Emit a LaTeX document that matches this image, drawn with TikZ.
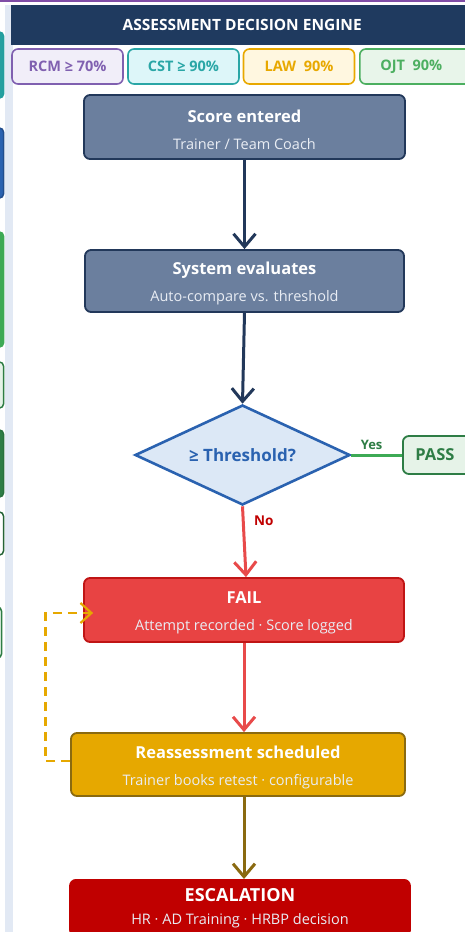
\documentclass[tikz,border=0pt]{standalone}
\usepackage{fontspec}
\setmainfont{Open Sans}
\usetikzlibrary{arrows.meta,shapes.geometric}
\definecolor{navy}{HTML}{1F3A5F}
\definecolor{boxblue}{HTML}{6B7F9E}
\definecolor{boxblueb}{HTML}{22385A}
\definecolor{subtxt}{HTML}{E9EDF4}
\definecolor{diafill}{HTML}{DCE8F6}
\definecolor{diab}{HTML}{2A62B0}
\definecolor{passg}{HTML}{3DAA55}
\definecolor{passdk}{HTML}{2E7D45}
\definecolor{passfill}{HTML}{E6F3E8}
\definecolor{failfill}{HTML}{E84343}
\definecolor{failb}{HTML}{C01515}
\definecolor{noline}{HTML}{E84A4A}
\definecolor{notxt}{HTML}{C00000}
\definecolor{amber}{HTML}{E6A800}
\definecolor{amberb}{HTML}{8A6A10}
\definecolor{dashclr}{HTML}{E6A800}
\definecolor{escfill}{HTML}{C00000}
\definecolor{barclr}{HTML}{E2E9F4}
\definecolor{rcmb}{HTML}{8060B0}
\definecolor{rcmf}{HTML}{F1EEF9}
\definecolor{cstb}{HTML}{2AA6A6}
\definecolor{cstf}{HTML}{DDF6F9}
\definecolor{lawb}{HTML}{E8A800}
\definecolor{lawf}{HTML}{FFF7E0}
\definecolor{ojtb}{HTML}{4CAF60}
\definecolor{ojtf}{HTML}{E8F5EA}
\tikzset{
  flowbox/.style={rectangle, rounded corners=6pt, line width=1.8pt, align=center, inner sep=0pt, text=white, font=\fontsize{14.5}{17}\selectfont},
  pill/.style={rectangle, rounded corners=6pt, line width=1.6pt, minimum width=111pt, minimum height=35pt, inner sep=0pt, font=\fontsize{14.5}{16}\selectfont\bfseries},
  flowarrow/.style={line width=3pt, -{Straight Barb[length=13pt,width=22pt,line width=3pt]}},
  sidebox/.style={rounded corners=4pt, line width=1.5pt}
}
\newcommand{\ttl}[1]{{\fontsize{16.5}{19}\selectfont\bfseries\rule{0pt}{18pt}#1}}
\newcommand{\sbt}[1]{{\color{subtxt}#1}}
\begin{document}
\begin{tikzpicture}[x=1pt,y=-1pt]
\useasboundingbox (0,0) rectangle (465,932);
\fill[white] (0,0) rectangle (465,932);
% top purple line
\fill[rcmb!80!violet] (0,0) rectangle (465,1.5);
% left partial side boxes
\draw[sidebox, draw=cstb!80!teal, fill=cstb!85!teal] (-20,32) rectangle (3.5,98);
\draw[sidebox, draw=diab!80!black, fill=diab] (-20,128) rectangle (3.5,198);
\draw[sidebox, draw=passg, fill=passg] (-20,232) rectangle (3.5,347);
\draw[sidebox, draw=passdk, fill=passfill] (-20,362) rectangle (3.5,408);
\draw[sidebox, draw=passdk!90!black, fill=passdk] (-20,430) rectangle (3.5,497);
\draw[sidebox, draw=passdk!80!black, fill=white] (-20,512) rectangle (3.5,555);
\draw[sidebox, draw=passdk, fill=passfill] (-20,607) rectangle (1.5,658);
% light vertical bar
\fill[barclr] (5,5) rectangle (12.5,932);
% header
\node[rectangle, fill=navy, minimum width=459pt, minimum height=40pt, inner sep=0pt, anchor=north west, text=white, font=\fontsize{15.5}{18}\selectfont\bfseries] (hdr) at (11,5) {\hspace*{3pt}ASSESSMENT DECISION ENGINE};
% pills
\node[pill, draw=rcmb, fill=rcmf, text=rcmb] (rcm) at (67.5,66.5) {RCM ≥ 70\%};
\node[pill, draw=cstb, fill=cstf, text=cstb] (cst) at (183.5,66.5) {CST ≥ 90\%};
\node[pill, draw=lawb, fill=lawf, text=lawb] (law) at (299,66.5) {LAW\ \ 90\%};
\node[pill, draw=ojtb, fill=ojtf, text=ojtb, anchor=west] (ojt) at (359,66.5) {\hspace*{-8pt}OJT\ \ 90\%};
% flow boxes
\node[flowbox, draw=boxblueb, fill=boxblue, minimum width=321pt, minimum height=64pt] (score) at (244.5,127) {\ttl{Score entered}\\[10pt]\sbt{Trainer / Team Coach}};
\node[flowbox, draw=boxblueb, fill=boxblue, minimum width=319pt, minimum height=62pt] (sys) at (244.5,281) {\ttl{System evaluates}\\[10pt]\sbt{Auto-compare vs. threshold}};
\node[diamond, aspect=2.15, draw=diab, fill=diafill, line width=2.6pt, minimum width=215pt, minimum height=100pt, inner sep=0pt, text=diab, font=\fontsize{17}{20}\selectfont\bfseries] (dec) at (242.5,455) {≥ Threshold?};
\node[flowbox, draw=passdk, fill=passfill, minimum width=72pt, minimum height=38pt, text=passdk, font=\fontsize{16.5}{19}\selectfont\bfseries, anchor=west] (pass) at (402,455) {\hspace*{-8pt}\raisebox{-2pt}{PASS}};
\node[flowbox, draw=failb, fill=failfill, minimum width=320pt, minimum height=64pt] (fail) at (244,610) {\ttl{FAIL}\\[10pt]\sbt{Attempt recorded · Score logged}};
\node[flowbox, draw=amberb, fill=amber, minimum width=334pt, minimum height=63pt] (reas) at (238,764.5) {\ttl{Reassessment scheduled}\\[10pt]\sbt{Trainer books retest · configurable}};
\node[flowbox, draw=escfill, fill=escfill, minimum width=340pt, minimum height=56pt, anchor=north] (esc) at (240,879) {{\fontsize{18}{20}\selectfont\bfseries ESCALATION}\\[6pt]\sbt{HR · AD Training · HRBP decision}};
% connectors
\draw[flowarrow, draw=boxblueb] (score.south) -- (sys.north);
\draw[flowarrow, draw=boxblueb] (sys.south) -- (dec.north);
\draw[line width=3pt, passg] (dec.east) -- node[above=1pt, pos=0.4, text=passdk, font=\fontsize{13}{15}\selectfont\bfseries] {Yes} (pass.west);
\draw[flowarrow, draw=noline] (dec.south) -- node[right=6pt, pos=0.2, text=notxt, font=\fontsize{13.5}{15}\selectfont\bfseries] {No} ([xshift=2pt]fail.north);
\draw[flowarrow, draw=noline] (fail.south) -- (fail.south |- reas.north);
\coordinate (lp1) at (45.5,761);
\coordinate (lp2) at (45.5,613);
\draw[line width=2.2pt, draw=dashclr, dash pattern=on 9pt off 6pt, -{Straight Barb[length=11pt,width=20pt,line width=2.2pt]}] (reas.west |- lp1) -- (lp1) -- (lp2) -- ([xshift=10pt]fail.west |- lp2);
\draw[flowarrow, draw=amberb] (reas.south -| fail.south) -- (fail.south |- esc.north);
\end{tikzpicture}
\end{document}
